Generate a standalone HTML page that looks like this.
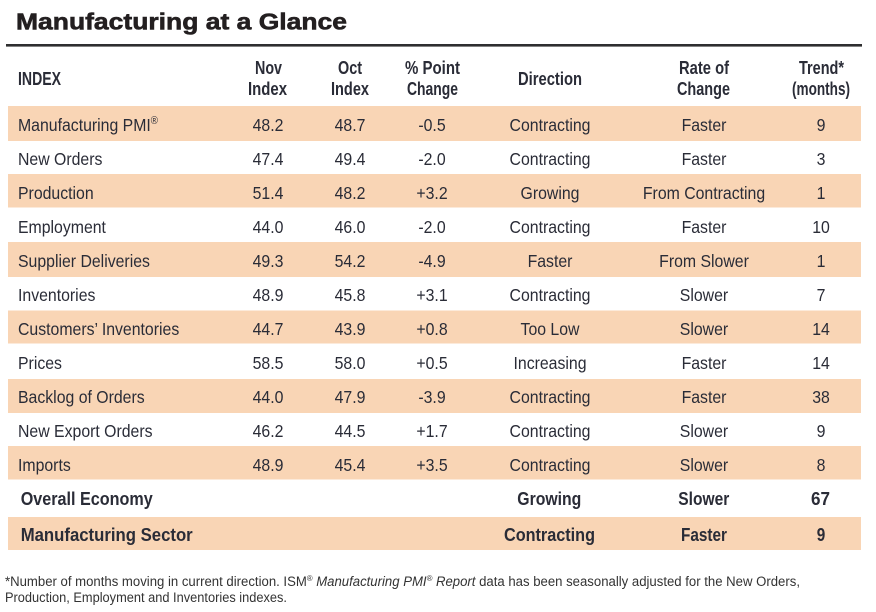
<!DOCTYPE html>
<html><head><meta charset="utf-8"><style>
html,body{margin:0;padding:0;background:#fff;}
svg{display:block;}
text{font-family:"Liberation Sans",Arial,sans-serif;fill:#2a2c37;}
.r{font-size:18px;}
.b{font-size:18px;font-weight:bold;}
.m{text-anchor:middle;}
</style></head><body>
<svg width="876" height="612" viewBox="0 0 876 612" xmlns="http://www.w3.org/2000/svg">
<rect width="876" height="612" fill="#fff"/>
<text x="16" y="29.5" font-size="23" font-weight="bold" style="fill:#231f20;stroke:#231f20;stroke-width:0.6" textLength="331" lengthAdjust="spacingAndGlyphs">Manufacturing at a Glance</text>
<rect x="6" y="44" width="856" height="2.6" fill="#2e2e30"/>

<!-- headers -->
<g class="b">
<text x="18" y="85" textLength="43" lengthAdjust="spacingAndGlyphs">INDEX</text>
<text x="255" y="74" textLength="27" lengthAdjust="spacingAndGlyphs">Nov</text>
<text x="248" y="95" textLength="39" lengthAdjust="spacingAndGlyphs">Index</text>
<text x="338" y="74" textLength="24" lengthAdjust="spacingAndGlyphs">Oct</text>
<text x="331" y="95" textLength="38" lengthAdjust="spacingAndGlyphs">Index</text>
<text x="405" y="74" textLength="55" lengthAdjust="spacingAndGlyphs">% Point</text>
<text x="407" y="95" textLength="51" lengthAdjust="spacingAndGlyphs">Change</text>
<text x="518" y="85" textLength="64" lengthAdjust="spacingAndGlyphs">Direction</text>
<text x="679" y="74" textLength="50" lengthAdjust="spacingAndGlyphs">Rate of</text>
<text x="677" y="95" textLength="53" lengthAdjust="spacingAndGlyphs">Change</text>
<text x="799" y="74" textLength="45" lengthAdjust="spacingAndGlyphs">Trend*</text>
<text x="792" y="95" textLength="58" lengthAdjust="spacingAndGlyphs">(months)</text>
</g>

<!-- bands -->
<g fill="#f9d5b5">
<rect x="8" y="106" width="853" height="35"/>
<rect x="8" y="174" width="853" height="33.5"/>
<rect x="8" y="242" width="853" height="35"/>
<rect x="8" y="310.5" width="853" height="33"/>
<rect x="8" y="379" width="853" height="34"/>
<rect x="8" y="446" width="853" height="33.5"/>
<rect x="8" y="517" width="853" height="33"/>
</g>

<g class="r">
<!-- row 1 -->
<text transform="translate(18 131) scale(.88 1)">Manufacturing PMI<tspan font-size="11" dy="-7">®</tspan></text>
<text class="m" transform="translate(268 131) scale(.88 1)">48.2</text>
<text class="m" transform="translate(350 131) scale(.88 1)">48.7</text>
<text class="m" transform="translate(432 131) scale(.88 1)">-0.5</text>
<text class="m" transform="translate(550 131) scale(.88 1)">Contracting</text>
<text class="m" transform="translate(704 131) scale(.88 1)">Faster</text>
<text class="m" transform="translate(821 131) scale(.88 1)">9</text>
<!-- row 2 -->
<text transform="translate(18 165) scale(.88 1)">New Orders</text>
<text class="m" transform="translate(268 165) scale(.88 1)">47.4</text>
<text class="m" transform="translate(350 165) scale(.88 1)">49.4</text>
<text class="m" transform="translate(432 165) scale(.88 1)">-2.0</text>
<text class="m" transform="translate(550 165) scale(.88 1)">Contracting</text>
<text class="m" transform="translate(704 165) scale(.88 1)">Faster</text>
<text class="m" transform="translate(821 165) scale(.88 1)">3</text>
<!-- row 3 -->
<text transform="translate(18 199) scale(.88 1)">Production</text>
<text class="m" transform="translate(268 199) scale(.88 1)">51.4</text>
<text class="m" transform="translate(350 199) scale(.88 1)">48.2</text>
<text class="m" transform="translate(432 199) scale(.88 1)">+3.2</text>
<text class="m" transform="translate(550 199) scale(.88 1)">Growing</text>
<text class="m" transform="translate(704 199) scale(.88 1)">From Contracting</text>
<text class="m" transform="translate(821 199) scale(.88 1)">1</text>
<!-- row 4 -->
<text transform="translate(18 233) scale(.88 1)">Employment</text>
<text class="m" transform="translate(268 233) scale(.88 1)">44.0</text>
<text class="m" transform="translate(350 233) scale(.88 1)">46.0</text>
<text class="m" transform="translate(432 233) scale(.88 1)">-2.0</text>
<text class="m" transform="translate(550 233) scale(.88 1)">Contracting</text>
<text class="m" transform="translate(704 233) scale(.88 1)">Faster</text>
<text class="m" transform="translate(821 233) scale(.88 1)">10</text>
<!-- row 5 -->
<text transform="translate(18 267) scale(.88 1)">Supplier Deliveries</text>
<text class="m" transform="translate(268 267) scale(.88 1)">49.3</text>
<text class="m" transform="translate(350 267) scale(.88 1)">54.2</text>
<text class="m" transform="translate(432 267) scale(.88 1)">-4.9</text>
<text class="m" transform="translate(550 267) scale(.88 1)">Faster</text>
<text class="m" transform="translate(704 267) scale(.88 1)">From Slower</text>
<text class="m" transform="translate(821 267) scale(.88 1)">1</text>
<!-- row 6 -->
<text transform="translate(18 301) scale(.88 1)">Inventories</text>
<text class="m" transform="translate(268 301) scale(.88 1)">48.9</text>
<text class="m" transform="translate(350 301) scale(.88 1)">45.8</text>
<text class="m" transform="translate(432 301) scale(.88 1)">+3.1</text>
<text class="m" transform="translate(550 301) scale(.88 1)">Contracting</text>
<text class="m" transform="translate(704 301) scale(.88 1)">Slower</text>
<text class="m" transform="translate(821 301) scale(.88 1)">7</text>
<!-- row 7 -->
<text transform="translate(18 335) scale(.88 1)">Customers’ Inventories</text>
<text class="m" transform="translate(268 335) scale(.88 1)">44.7</text>
<text class="m" transform="translate(350 335) scale(.88 1)">43.9</text>
<text class="m" transform="translate(432 335) scale(.88 1)">+0.8</text>
<text class="m" transform="translate(550 335) scale(.88 1)">Too Low</text>
<text class="m" transform="translate(704 335) scale(.88 1)">Slower</text>
<text class="m" transform="translate(821 335) scale(.88 1)">14</text>
<!-- row 8 -->
<text transform="translate(18 369) scale(.88 1)">Prices</text>
<text class="m" transform="translate(268 369) scale(.88 1)">58.5</text>
<text class="m" transform="translate(350 369) scale(.88 1)">58.0</text>
<text class="m" transform="translate(432 369) scale(.88 1)">+0.5</text>
<text class="m" transform="translate(550 369) scale(.88 1)">Increasing</text>
<text class="m" transform="translate(704 369) scale(.88 1)">Faster</text>
<text class="m" transform="translate(821 369) scale(.88 1)">14</text>
<!-- row 9 -->
<text transform="translate(18 403) scale(.88 1)">Backlog of Orders</text>
<text class="m" transform="translate(268 403) scale(.88 1)">44.0</text>
<text class="m" transform="translate(350 403) scale(.88 1)">47.9</text>
<text class="m" transform="translate(432 403) scale(.88 1)">-3.9</text>
<text class="m" transform="translate(550 403) scale(.88 1)">Contracting</text>
<text class="m" transform="translate(704 403) scale(.88 1)">Faster</text>
<text class="m" transform="translate(821 403) scale(.88 1)">38</text>
<!-- row 10 -->
<text transform="translate(18 437) scale(.88 1)">New Export Orders</text>
<text class="m" transform="translate(268 437) scale(.88 1)">46.2</text>
<text class="m" transform="translate(350 437) scale(.88 1)">44.5</text>
<text class="m" transform="translate(432 437) scale(.88 1)">+1.7</text>
<text class="m" transform="translate(550 437) scale(.88 1)">Contracting</text>
<text class="m" transform="translate(704 437) scale(.88 1)">Slower</text>
<text class="m" transform="translate(821 437) scale(.88 1)">9</text>
<!-- row 11 -->
<text transform="translate(18 471) scale(.88 1)">Imports</text>
<text class="m" transform="translate(268 471) scale(.88 1)">48.9</text>
<text class="m" transform="translate(350 471) scale(.88 1)">45.4</text>
<text class="m" transform="translate(432 471) scale(.88 1)">+3.5</text>
<text class="m" transform="translate(550 471) scale(.88 1)">Contracting</text>
<text class="m" transform="translate(704 471) scale(.88 1)">Slower</text>
<text class="m" transform="translate(821 471) scale(.88 1)">8</text>
</g>

<!-- bold summary rows -->
<g class="b">
<text x="20.7" y="505" textLength="132" lengthAdjust="spacingAndGlyphs">Overall Economy</text>
<text x="517.3" y="505" textLength="64" lengthAdjust="spacingAndGlyphs">Growing</text>
<text x="678.3" y="505" textLength="51" lengthAdjust="spacingAndGlyphs">Slower</text>
<text x="811" y="505" textLength="19" lengthAdjust="spacingAndGlyphs">67</text>
<text x="20.7" y="541" textLength="172" lengthAdjust="spacingAndGlyphs">Manufacturing Sector</text>
<text x="504" y="541" textLength="91" lengthAdjust="spacingAndGlyphs">Contracting</text>
<text x="681" y="541" textLength="46" lengthAdjust="spacingAndGlyphs">Faster</text>
<text x="816.7" y="541" textLength="8.5" lengthAdjust="spacingAndGlyphs">9</text>
</g>

<!-- footnote -->
<text x="5" y="586" font-size="13.5" style="fill:#333" textLength="795" lengthAdjust="spacingAndGlyphs">*Number of months moving in current direction. ISM<tspan font-size="8" dy="-5">®</tspan><tspan dy="5" font-style="italic"> Manufacturing PMI</tspan><tspan font-size="8" dy="-5" font-style="italic">®</tspan><tspan dy="5" font-style="italic"> Report</tspan> data has been seasonally adjusted for the New Orders,</text>
<text x="5" y="602" font-size="13.5" style="fill:#333" textLength="282" lengthAdjust="spacingAndGlyphs">Production, Employment and Inventories indexes.</text>
</svg>
</body></html>
